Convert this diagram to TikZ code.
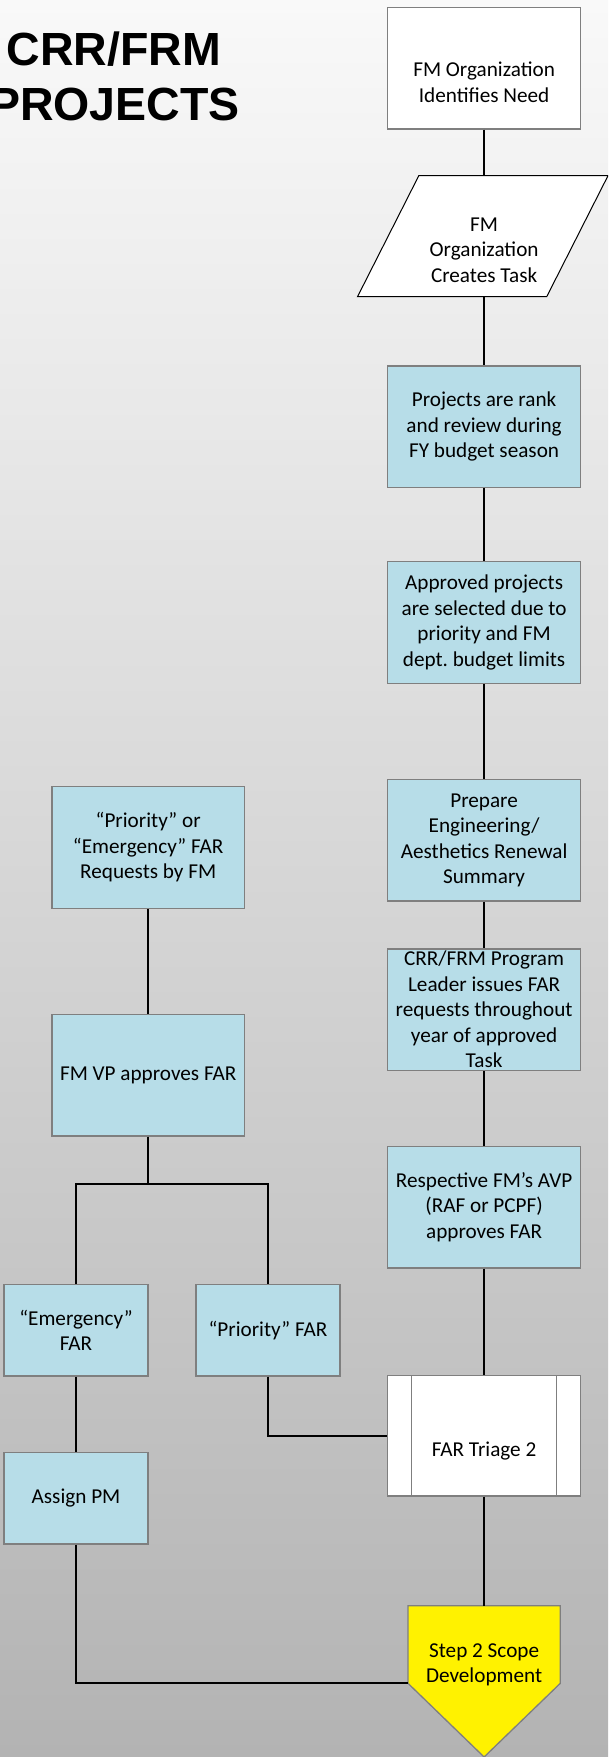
\documentclass[tikz,border=0pt]{standalone}
\usepackage{fontspec}
\setmainfont{Carlito}
\newfontfamily\titlefont{Liberation Sans}
\frenchspacing
\definecolor{boxblue}{HTML}{B7DDE8}
\definecolor{bordergray}{HTML}{7F7F7F}
\definecolor{bgtop}{HTML}{F9F9F9}
\definecolor{bgbot}{HTML}{B3B3B3}
\begin{document}
\begin{tikzpicture}[x=1pt,y=-1pt,
  box/.style={draw=bordergray, line width=1.3pt, fill=boxblue, align=center,
    minimum width=192.8pt, minimum height=121.7pt, inner sep=0pt,
    font=\fontsize{21.2}{25.5}\selectfont},
  smallbox/.style={box, minimum width=144pt, minimum height=91.7pt},
  wbox/.style={box, fill=white},
  txt/.style={align=center, inner sep=0pt, font=\fontsize{21.2}{25.5}\selectfont},
  conn/.style={draw=black, line width=1.8pt},
  ttl/.style={font=\titlefont\bfseries\fontsize{46.5}{52}\selectfont, anchor=base, inner sep=0pt}]
\shade[top color=bgtop, bottom color=bgbot] (0,0) rectangle (608,1757);
\useasboundingbox (0,0) rectangle (608,1757);
\clip (0,0) rectangle (608,1757);

% title
\node[ttl] (t1) at (113.8,65) {CRR/FRM};
\node[ttl] (t2) at (114.5,120) {PROJECTS};

% right column
\node[wbox] (fm) at (484.1,68.2) {};
\node[txt] (fmtxt) at (484.1,82.3) {FM Organization\\Identifies Need};

\coordinate (pTL) at (418.8,175.7);
\coordinate (pTR) at (608,175.7);
\coordinate (pBR) at (546.7,296.7);
\coordinate (pBL) at (357.5,296.7);
\filldraw[fill=white, draw=black, line width=1pt] (pTL) -- (pTR) -- (pBR) -- (pBL) -- cycle;
\node[txt] (para) at (484.1,250) {FM\\Organization\\Creates Task};
\coordinate (paratop) at (484.1,175.7);
\coordinate (parabot) at (484.1,296.7);

\node[box] (rank) at (484.1,426.9) {Projects are rank\\and review during\\FY budget season};
\node[box] (appr) at (484.1,622.5) {Approved projects\\are selected due to\\priority and FM\\dept. budget limits};
\node[box] (prep) at (484.1,840.2) {Prepare\\Engineering/\\Aesthetics Renewal\\Summary};
\node[box] (crr) at (484.1,1009.7) {CRR/FRM Program\\Leader issues FAR\\requests throughout\\year of approved\\Task};
\node[box] (resp) at (484.1,1207.2) {Respective FM’s AVP\\(RAF or PCPF)\\approves FAR};

\node[wbox, minimum height=120.3pt] (tri) at (484.1,1435.9) {};
\draw[bordergray, line width=1.3pt] ([xshift=24.1pt]tri.north west) -- ([xshift=24.1pt]tri.south west);
\draw[bordergray, line width=1.3pt] ([xshift=-24.5pt]tri.north east) -- ([xshift=-24.5pt]tri.south east);
\node[txt] (tritxt) at (484.1,1450.7) {FAR Triage 2};

\coordinate (sTL) at (408,1605.7);
\coordinate (sTR) at (560.3,1605.7);
\coordinate (sR) at (560.3,1683.3);
\coordinate (sB) at (484.1,1757);
\coordinate (sL) at (408,1683.3);
\filldraw[fill=yellow, draw=bordergray, line width=1.3pt] (sTL) -- (sTR) -- (sR) -- (sB) -- (sL) -- cycle;
\node[txt] (step) at (484.1,1665) {Step 2 Scope\\Development};
\coordinate (stop) at (484.1,1605.7);

% left column
\node[box, minimum width=192.3pt] (req) at (148.2,847.5) {“Priority” or\\“Emergency” FAR\\Requests by FM};
\node[box, minimum width=192.3pt] (vp) at (148.2,1075) {FM VP approves FAR};
\coordinate (br) at (148.2,1184);
\node[smallbox] (emg) at (76,1330.2) {“Emergency”\\FAR};
\node[smallbox] (pri) at (268,1330.2) {“Priority” FAR};
\node[smallbox] (asg) at (76,1498.2) {Assign PM};

% connectors
\draw[conn] (fm.south) -- (paratop);
\draw[conn] (parabot) -- (rank.north);
\draw[conn] (rank.south) -- (appr.north);
\draw[conn] (appr.south) -- (prep.north);
\draw[conn] (prep.south) -- (crr.north);
\draw[conn] (crr.south) -- (resp.north);
\draw[conn] (resp.south) -- (tri.north);
\draw[conn] (tri.south) -- (stop);
\draw[conn] (req.south) -- (vp.north);
\draw[conn] (vp.south) -- (br);
\draw[conn] (emg.north) |- (br) -| (pri.north);
\draw[conn] (emg.south) -- (asg.north);
\draw[conn] (pri.south) |- (tri.west);
\draw[conn] (asg.south) |- (sL);
\end{tikzpicture}
\end{document}
